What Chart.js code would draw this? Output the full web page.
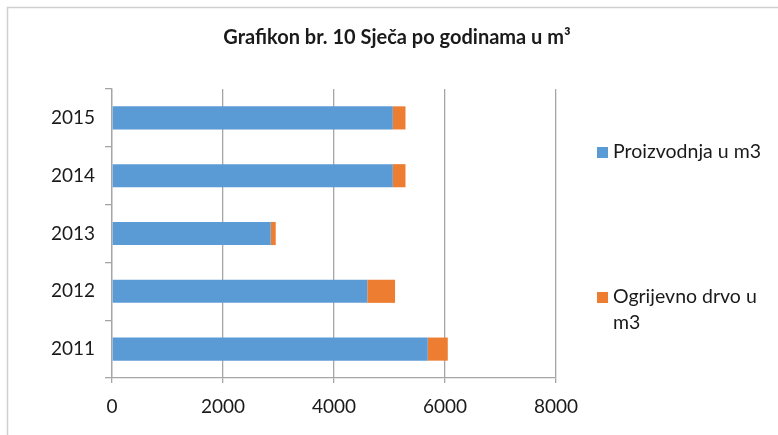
<!DOCTYPE html>
<html>
<head>
<meta charset="utf-8">
<script src="https://cdn.jsdelivr.net/npm/chart.js@4/dist/chart.umd.min.js"></script>
<style>
  body { margin: 0; background: #fff; }
  #wrap { width: 778px; height: 435px; position: relative; }
</style>
</head>
<body>
<div id="wrap"><canvas id="myChart" width="778" height="435"></canvas></div>
<script>
var years = ["2011", "2012", "2013", "2014", "2015"];
var proizvodnja = [5690, 4600, 2860, 5060, 5060];
var ogrijevno = [360, 500, 90, 228, 228];
var seriesNames = ["Proizvodnja u m3", "Ogrijevno drvo u m3"];
var xTicks = [0, 2000, 4000, 6000, 8000];

var blue = "#5B9BD5";
var orange = "#ED7D31";
var font = "Lato";
var textColor = "#1a1a1a";

// frame lines (top and left) like the original picture
var framePlugin = {
  id: "frame",
  beforeDraw: function(chart) {
    var ctx = chart.ctx;
    ctx.save();
    ctx.fillStyle = "#fff";
    ctx.fillRect(0, 0, chart.width, chart.height);
    ctx.strokeStyle = "#d0d0d0";
    ctx.lineWidth = 1.5;
    ctx.beginPath();
    ctx.moveTo(7.5, chart.height);
    ctx.lineTo(7.5, 7.5);
    ctx.lineTo(chart.width, 7.5);
    ctx.stroke();
    ctx.restore();
  }
};

// legend on the right side, text wrapped like in Excel
var sideLegend = {
  id: "sideLegend",
  afterDraw: function(chart) {
    var ctx = chart.ctx;
    var items = [
      { color: blue, lines: ["Proizvodnja u m3"], y: 152 },
      { color: orange, lines: ["Ogrijevno drvo u", "m3"], y: 297 }
    ];
    ctx.save();
    ctx.font = "19.5px " + font;
    ctx.textBaseline = "middle";
    items.forEach(function(it) {
      ctx.fillStyle = it.color;
      ctx.fillRect(597, it.y - 5, 11, 11);
      ctx.fillStyle = textColor;
      it.lines.forEach(function(l, i) {
        ctx.fillText(l, 613, it.y + i * 26);
      });
    });
    ctx.restore();
  }
};

var ctx = document.getElementById("myChart").getContext("2d");
var chart = new Chart(ctx, {
  type: "bar",
  data: {
    labels: years,
    datasets: [
      {
        label: seriesNames[0],
        data: proizvodnja,
        backgroundColor: blue,
        categoryPercentage: 1,
        barPercentage: 0.4
      },
      {
        label: seriesNames[1],
        data: ogrijevno,
        backgroundColor: orange,
        categoryPercentage: 1,
        barPercentage: 0.4
      }
    ]
  },
  options: {
    indexAxis: "y",
    responsive: false,
    animation: false,
    layout: { padding: { left: 16, right: 0, top: 0, bottom: 0 } },
    plugins: {
      legend: { display: false },
      tooltip: { enabled: false },
      title: {
        display: true,
        text: "Grafikon br. 10 Sječa po godinama u m³",
        color: textColor,
        font: { family: font, size: 20, weight: "bold" },
        padding: { top: 26, bottom: 39 }
      }
    },
    scales: {
      x: {
        stacked: true,
        min: 0,
        max: 8000,
        afterBuildTicks: function(s) {
          s.ticks = xTicks.map(function(v) { return { value: v }; });
        },
        afterFit: function(s) { s.height = 57; },
        grid: { color: "#a6a6a6", lineWidth: 1.3, tickLength: 5 },
        border: { color: "#a6a6a6", width: 1.3 },
        ticks: {
          color: textColor,
          padding: 12,
          font: { family: font, size: 19 },
          callback: function(v) { return String(v); }
        }
      },
      y: {
        stacked: true,
        reverse: true,
        afterFit: function(s) { s.width = 96; },
        grid: { drawOnChartArea: false, color: "#a6a6a6", lineWidth: 1.3, tickLength: 7, offset: true },
        border: { color: "#a6a6a6", width: 1.3 },
        ticks: { color: textColor, padding: 10, font: { family: font, size: 19 } }
      },
      gap: {
        axis: "y",
        type: "linear",
        position: "right",
        display: true,
        afterFit: function(s) { s.width = 222; },
        grid: { display: false },
        border: { display: false },
        ticks: { display: false }
      }
    }
  },
  plugins: [framePlugin, sideLegend]
});
</script>
</body>
</html>
